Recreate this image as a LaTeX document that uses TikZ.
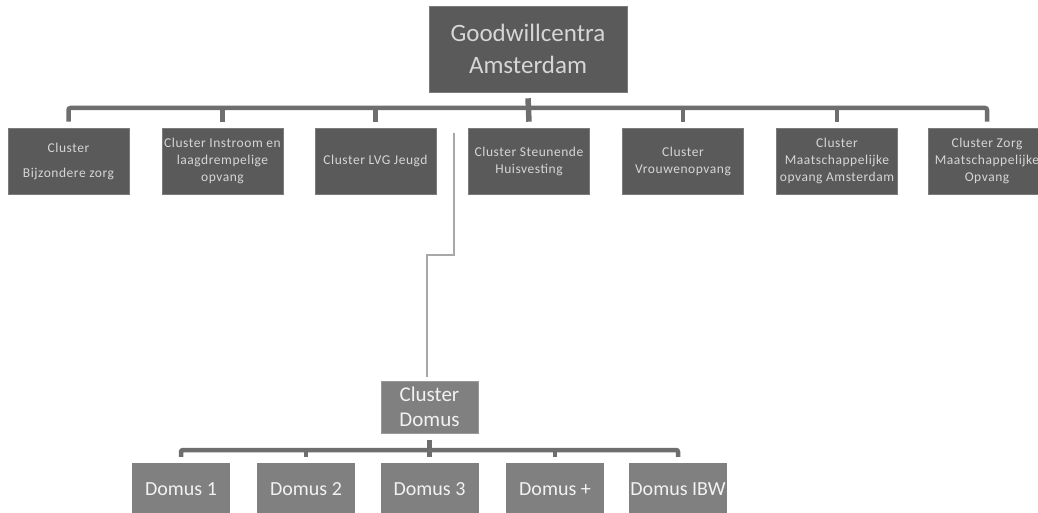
\documentclass[tikz,border=0pt]{standalone}
\usepackage{fontspec}
\newfontfamily\calfont[LetterSpace=4]{Carlito}
\newfontfamily\calbig{Carlito}
\definecolor{boxdark}{HTML}{5A5A5A}
\definecolor{boxmid}{HTML}{808080}
\definecolor{txtdark}{HTML}{D6D6D6}
\definecolor{txtmid}{HTML}{F2F2F2}
\definecolor{busgray}{HTML}{6E6E6E}
\definecolor{linkgray}{HTML}{A8A8A8}
\begin{document}
\begin{tikzpicture}[x=1pt,y=-1pt,
  topbox/.style={fill=boxdark, draw=boxdark!80!white, line width=0.6pt, text=txtdark, minimum width=198pt, minimum height=86pt, inner sep=0pt, align=center, font=\calbig\fontsize{25}{32}\selectfont},
  lvlbox/.style={fill=boxdark, draw=boxdark!80!white, line width=0.6pt, text=txtdark, minimum width=121pt, minimum height=66pt, inner sep=0pt, align=center, font=\calfont\fontsize{13.5}{17}\selectfont},
  clbox/.style={fill=boxmid, draw=boxmid!80!white, line width=0.8pt, text=txtmid, minimum width=97pt, minimum height=52pt, inner sep=0pt, align=center, font=\calbig\fontsize{21}{25}\selectfont},
  dombox/.style={fill=boxmid, text=txtmid, minimum width=98pt, minimum height=53pt, inner sep=0pt, align=center, font=\calbig\fontsize{20}{24}\selectfont},
  bus/.style={draw=busgray, line width=4.5pt, rounded corners=2pt},
  tickline/.style={draw=busgray, line width=5.5pt},
  linkline/.style={draw=linkgray, line width=2pt}]
\useasboundingbox (0,0) rectangle (1038,513);
\fill[white] (0,0) rectangle (1038,513);

% top
\node[topbox] (top) at (528,49) {Goodwillcentra\\Amsterdam};

% level 1
\node[lvlbox] (b1) at (68.5,161) {Cluster\\[8pt]Bijzondere zorg};
\node[lvlbox] (b2) at (222.5,161) {Cluster Instroom en\\laagdrempelige\\opvang};
\node[lvlbox] (b3) at (375.5,161) {Cluster LVG Jeugd};
\node[lvlbox] (b4) at (529,161) {Cluster Steunende\\Huisvesting};
\node[lvlbox] (b5) at (683,161) {Cluster\\Vrouwenopvang};
\node[lvlbox] (b6) at (837,161) {Cluster\\Maatschappelijke\\opvang Amsterdam};
\node[lvlbox, minimum width=118pt] (b7) at (987,161) {Cluster Zorg\\Maatschappelijke\\Opvang};

% bus level 1
\coordinate (bus1) at (528,108);
\draw[bus] ([yshift=6pt]b1.north) -- (b1.north |- bus1) -- (b7.north |- bus1) -- ([yshift=6pt]b7.north);
\foreach \n in {b2,b3,b5,b6}{
  \draw[bus] ([yshift=6pt]\n.north) -- (\n.north |- bus1);
}
\draw[tickline] ([yshift=-6pt]top.south) -- ([yshift=6pt]b4.north);

% cluster domus
\node[clbox] (cd) at (429.5,407) {Cluster\\Domus};
\coordinate (linkstart) at (454,133);
\draw[linkline] (linkstart) -- ++(0,122) -| ([xshift=-2.5pt,yshift=4pt]cd.north);

% domus level
\node[dombox] (d1) at (181,489.5) {Domus 1};
\node[dombox] (d2) at (306,489.5) {Domus 2};
\node[dombox] (d3) at (429.5,489.5) {Domus 3};
\node[dombox] (d4) at (555,489.5) {Domus +};
\node[dombox] (d5) at (678,489.5) {Domus IBW};

\coordinate (bus2) at (430,450);
\draw[bus] ([yshift=6pt]d1.north) -- (d1.north |- bus2) -- (d5.north |- bus2) -- ([yshift=6pt]d5.north);
\foreach \n in {d2,d4}{
  \draw[bus] ([yshift=6pt]\n.north) -- (\n.north |- bus2);
}
\draw[tickline] ([yshift=-7pt]cd.south) -- ([yshift=6pt]d3.north);
\end{tikzpicture}
\end{document}
